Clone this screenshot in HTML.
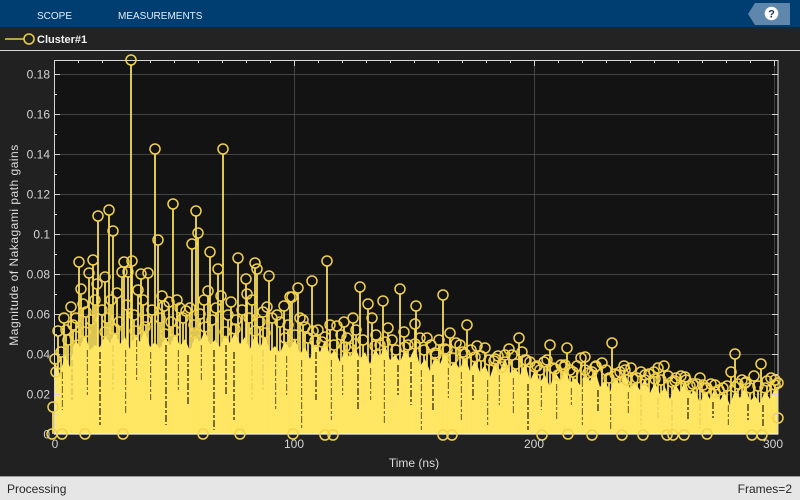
<!DOCTYPE html>
<html>
<head>
<meta charset="utf-8">
<style>
html,body{margin:0;padding:0;background:#222;}
body{width:800px;height:500px;overflow:hidden;position:relative;font-family:"Liberation Sans",sans-serif;}
svg{position:absolute;left:0;top:0;}
</style>
</head>
<body>
<svg width="800" height="500" viewBox="0 0 800 500" xmlns="http://www.w3.org/2000/svg" font-family="Liberation Sans, sans-serif">
  <rect x="0" y="0" width="800" height="500" fill="#212121"/>
  <rect x="0" y="0" width="800" height="27" fill="#003e72"/>
  <text x="37" y="19" font-size="10" fill="#e6edf4">SCOPE</text>
  <text x="118" y="19" font-size="10" fill="#e6edf4">MEASUREMENTS</text>
  <polygon points="748,14 755,3 790,3 790,25 755,25" fill="#5f86ab"/>
  <circle cx="771.5" cy="13.5" r="6.8" fill="#ffffff"/>
  <text x="771.5" y="17.5" font-size="11" font-weight="bold" fill="#1d2f45" text-anchor="middle">?</text>

  <rect x="0" y="27" width="800" height="23" fill="#232323"/>
  <line x1="5" y1="39" x2="24" y2="39" stroke="#e8cc4c" stroke-width="1.6"/>
  <circle cx="29" cy="39" r="5" fill="none" stroke="#e8cc4c" stroke-width="1.6"/>
  <text x="37" y="43" font-size="11" font-weight="bold" fill="#f2f2f2">Cluster#1</text>
  <line x1="0" y1="50.5" x2="800" y2="50.5" stroke="#d6d6d6" stroke-width="1"/>

  <rect x="54" y="60" width="724" height="374" fill="#131313"/>
  <g stroke="#434343" stroke-width="1">
    <line x1="54" y1="74.5" x2="778" y2="74.5"/>
    <line x1="54" y1="114.5" x2="778" y2="114.5"/>
    <line x1="54" y1="154.5" x2="778" y2="154.5"/>
    <line x1="54" y1="194.5" x2="778" y2="194.5"/>
    <line x1="54" y1="234.5" x2="778" y2="234.5"/>
    <line x1="54" y1="274.5" x2="778" y2="274.5"/>
    <line x1="54" y1="314.5" x2="778" y2="314.5"/>
    <line x1="54" y1="354.5" x2="778" y2="354.5"/>
    <line x1="54" y1="394.5" x2="778" y2="394.5"/>
    <line x1="294.5" y1="60" x2="294.5" y2="434"/>
    <line x1="534.5" y1="60" x2="534.5" y2="434"/>
    <line x1="774.5" y1="60" x2="774.5" y2="434"/>
  </g>

  <polygon fill="#ffe666" points="54,434 55,362 60,374 65,355 70,367 75,339 80,347 85,335 90,350 95,345 100,347 105,335 110,343 115,332 120,344 125,337 130,349 135,334 140,342 145,330 150,347 155,342 160,349 165,337 170,345 175,334 180,346 185,339 190,351 195,336 200,342 205,330 210,345 215,340 220,347 225,335 230,343 235,332 240,344 245,337 250,349 255,334 260,348 265,336 270,351 275,346 280,353 285,341 290,349 295,338 300,354 305,347 310,359 315,344 320,352 325,340 330,355 335,350 340,362 345,350 350,358 355,347 360,359 365,352 370,364 375,349 380,357 385,345 390,360 395,355 400,362 405,350 410,358 415,347 420,366 425,359 430,371 435,356 440,364 445,352 450,367 455,362 460,369 465,357 470,371 475,360 480,372 485,365 490,377 495,362 500,370 505,358 510,373 515,368 520,375 525,363 530,381 535,370 540,382 545,375 550,387 555,372 560,380 565,368 570,383 575,378 580,385 585,373 590,381 595,370 600,387 605,380 610,392 615,377 620,385 625,373 630,388 635,383 640,390 645,378 650,393 655,382 660,394 665,387 670,399 675,384 680,392 685,380 690,395 695,390 700,403 705,391 710,399 715,388 720,400 725,393 730,405 735,390 740,398 745,386 750,401 755,396 760,403 765,391 770,399 775,388 778,395 778,434"/>

  <path fill="none" stroke="#2e2a18" stroke-width="1.6" stroke-dasharray="7 2 3 2" opacity="0.8"
    d="M62 372V410 M72 360V400 M87 350V395 M100 352V425 M113 345V390 M126 350V415 M137 340V380 M151 352V400 M166 345V425 M178 350V392 M188 355V405 M201 345V380 M214 350V430 M226 345V395 M234 352V420 M252 355V400 M263 350V390 M276 355V410 M287 356V395 M302 360V430 M316 352V400 M331 360V420 M343 365V395 M358 360V410 M371 368V400 M384 360V425 M398 365V395 M411 362V405 M421 370V430 M433 375V410 M448 368V398 M461 372V420 M473 375V400 M488 380V425 M499 375V405 M513 378V415 M528 384V430 M541 386V410 M557 384V420 M571 388V405 M582 380V425 M598 390V412 M611 394V430 M628 392V415 M641 395V425 M658 398V418 M672 400V430 M688 398V420 M700 404V428 M713 402V418 M728 405V425 M748 404V420 M763 405V428"/>

  <path fill="none" stroke="#ffe560" stroke-width="1.7"
    d="M131 434V65 M155 434V154 M223 434V154 M173 434V209 M98 434V221 M109 434V215 M113 434V236 M158 434V245 M196 434V216 M192 434V249 M198 434V238 M210 434V257 M218 434V274 M79 434V267 M93 434V265 M89 434V278 M81 434V294 M83 434V309 M71 434V312 M76 434V323 M68 434V345 M58 434V336 M56 434V377 M61 434V357 M97 434V289 M105 434V282 M117 434V298 M122 434V277 M124 434V267 M128 434V277 M132 434V266 M138 434V295 M141 434V279 M148 434V278 M162 434V301 M169 434V307 M180 434V313 M186 434V316 M208 434V296 M238 434V263 M246 434V284 M247 434V299 M255 434V268 M257 434V274 M267 434V312 M269 434V281 M277 434V320 M290 434V302 M298 434V293 M292 434V302 M300 434V323 M305 434V332 M312 434V286 M313 434V336 M327 434V266 M337 434V331 M347 434V343 M353 434V323 M360 434V292 M368 434V309 M372 434V323 M383 434V306 M400 434V294 M416 434V311 M415 434V329 M427 434V343 M443 434V300 M450 434V338 M456 434V348 M467 434V330 M477 434V351 M494 434V366 M502 434V372 M509 434V354 M519 434V343 M526 434V365 M537 434V371 M547 434V365 M550 434V350 M564 434V372 M567 434V353 M573 434V377 M581 434V363 M585 434V362 M588 434V378 M602 434V368 M612 434V348 M617 434V380 M631 434V373 M633 434V384 M654 434V377 M664 434V371 M681 434V381 M693 434V389 M703 434V390 M715 434V397 M723 434V393 M731 434V377 M735 434V359 M742 434V385 M761 434V369 M767 434V386 M775 434V385 M777 434V388 M53 434V412
    M64 434V323 M66 434V335 M73 434V330 M86 434V317 M91 434V325 M95 434V305 M102 434V315 M107 434V323 M111 434V305 M119 434V327 M127 434V310 M134 434V320 M143 434V305 M146 434V325 M152 434V315 M160 434V323 M164 434V311 M171 434V327 M177 434V305 M183 434V323 M190 434V313 M194 434V330 M200 434V319 M204 434V305 M212 434V325 M216 434V313 M221 434V301 M228 434V320 M231 434V307 M236 434V325 M242 434V315 M249 434V323 M252 434V305 M260 434V327 M263 434V317 M272 434V323 M280 434V327 M284 434V311 M288 434V330
    M303 434V325 M308 434V343 M318 434V335 M322 434V347 M330 434V330 M334 434V350 M341 434V340 M344 434V327 M350 434V353 M356 434V335 M363 434V345 M376 434V340 M380 434V350 M388 434V333 M392 434V345 M396 434V355 M404 434V337 M408 434V350 M420 434V343 M424 434V355 M431 434V350 M436 434V360 M439 434V345 M447 434V355 M453 434V363 M460 434V350 M463 434V357 M471 434V355 M481 434V361 M485 434V353 M489 434V365 M498 434V361 M505 434V367 M512 434V360 M516 434V369 M522 434V357 M530 434V367
    M540 434V375 M544 434V367 M553 434V373 M558 434V380 M561 434V370 M570 434V375 M577 434V371 M592 434V377 M596 434V371 M606 434V375 M609 434V383 M620 434V377 M624 434V371 M627 434V385 M637 434V383 M641 434V377 M645 434V385 M649 434V379 M658 434V373 M661 434V385 M668 434V381 M672 434V387 M676 434V383 M686 434V385 M690 434V391 M697 434V389 M700 434V383 M707 434V393 M711 434V389 M719 434V395 M727 434V391 M738 434V389 M746 434V387 M750 434V393 M754 434V381 M758 434V391 M771 434V383"/>

  <rect x="54.5" y="60.5" width="723.5" height="373.5" fill="none" stroke="#d6d6d6" stroke-width="1"/>
  <line x1="54" y1="434" x2="778" y2="434" stroke="#f4f4f4" stroke-width="1.2"/>

  <g stroke="#d6d6d6" stroke-width="1">
    <path d="M54 74.5h6 M54 114.5h6 M54 154.5h6 M54 194.5h6 M54 234.5h6 M54 274.5h6 M54 314.5h6 M54 354.5h6 M54 394.5h6"/>
    <path d="M54 94.5h3 M54 134.5h3 M54 174.5h3 M54 214.5h3 M54 254.5h3 M54 294.5h3 M54 334.5h3 M54 374.5h3 M54 414.5h3"/>
    <path d="M778 74.5h-6 M778 114.5h-6 M778 154.5h-6 M778 194.5h-6 M778 234.5h-6 M778 274.5h-6 M778 314.5h-6 M778 354.5h-6 M778 394.5h-6"/>
    <path d="M778 94.5h-3 M778 134.5h-3 M778 174.5h-3 M778 214.5h-3 M778 254.5h-3 M778 294.5h-3 M778 334.5h-3 M778 374.5h-3 M778 414.5h-3"/>
    <path d="M294.5 60v6 M534.5 60v6 M774.5 60v6"/>
    <path d="M78.5 60v3 M102.5 60v3 M126.5 60v3 M150.5 60v3 M174.5 60v3 M198.5 60v3 M222.5 60v3 M246.5 60v3 M270.5 60v3 M318.5 60v3 M342.5 60v3 M366.5 60v3 M390.5 60v3 M414.5 60v3 M438.5 60v3 M462.5 60v3 M486.5 60v3 M510.5 60v3 M558.5 60v3 M582.5 60v3 M606.5 60v3 M630.5 60v3 M654.5 60v3 M678.5 60v3 M702.5 60v3 M726.5 60v3 M750.5 60v3"/>
  </g>

  <g fill="none" stroke="#f2d24c" stroke-width="1.5">
    <circle cx="131" cy="60" r="5"/><circle cx="155" cy="149" r="5"/><circle cx="223" cy="149" r="5"/><circle cx="173" cy="204" r="5"/>
    <circle cx="98" cy="216" r="5"/><circle cx="109" cy="210" r="5"/><circle cx="113" cy="231" r="5"/><circle cx="158" cy="240" r="5"/>
    <circle cx="196" cy="211" r="5"/><circle cx="192" cy="244" r="5"/><circle cx="198" cy="233" r="5"/><circle cx="210" cy="252" r="5"/>
    <circle cx="218" cy="269" r="5"/><circle cx="79" cy="262" r="5"/><circle cx="93" cy="260" r="5"/><circle cx="89" cy="273" r="5"/>
    <circle cx="81" cy="289" r="5"/><circle cx="83" cy="304" r="5"/><circle cx="71" cy="307" r="5"/><circle cx="76" cy="318" r="5"/>
    <circle cx="68" cy="340" r="5"/><circle cx="58" cy="331" r="5"/><circle cx="56" cy="372" r="5"/><circle cx="61" cy="352" r="5"/>
    <circle cx="97" cy="284" r="5"/><circle cx="105" cy="277" r="5"/><circle cx="117" cy="293" r="5"/><circle cx="122" cy="272" r="5"/>
    <circle cx="124" cy="262" r="5"/><circle cx="128" cy="272" r="5"/><circle cx="132" cy="261" r="5"/><circle cx="138" cy="290" r="5"/>
    <circle cx="141" cy="274" r="5"/><circle cx="148" cy="273" r="5"/><circle cx="162" cy="296" r="5"/><circle cx="169" cy="302" r="5"/>
    <circle cx="180" cy="308" r="5"/><circle cx="186" cy="311" r="5"/><circle cx="208" cy="291" r="5"/><circle cx="238" cy="258" r="5"/>
    <circle cx="246" cy="279" r="5"/><circle cx="247" cy="294" r="5"/><circle cx="255" cy="263" r="5"/><circle cx="257" cy="269" r="5"/>
    <circle cx="267" cy="307" r="5"/><circle cx="269" cy="276" r="5"/><circle cx="277" cy="315" r="5"/><circle cx="290" cy="297" r="5"/>
    <circle cx="298" cy="288" r="5"/><circle cx="292" cy="297" r="5"/><circle cx="300" cy="318" r="5"/><circle cx="305" cy="327" r="5"/>
    <circle cx="312" cy="281" r="5"/><circle cx="313" cy="331" r="5"/><circle cx="327" cy="261" r="5"/><circle cx="337" cy="326" r="5"/>
    <circle cx="347" cy="338" r="5"/><circle cx="353" cy="318" r="5"/><circle cx="360" cy="287" r="5"/><circle cx="368" cy="304" r="5"/>
    <circle cx="372" cy="318" r="5"/><circle cx="383" cy="301" r="5"/><circle cx="400" cy="289" r="5"/><circle cx="416" cy="306" r="5"/>
    <circle cx="415" cy="324" r="5"/><circle cx="427" cy="338" r="5"/><circle cx="443" cy="295" r="5"/><circle cx="450" cy="333" r="5"/>
    <circle cx="456" cy="343" r="5"/><circle cx="467" cy="325" r="5"/><circle cx="477" cy="346" r="5"/><circle cx="494" cy="361" r="5"/>
    <circle cx="502" cy="367" r="5"/><circle cx="509" cy="349" r="5"/><circle cx="519" cy="338" r="5"/><circle cx="526" cy="360" r="5"/>
    <circle cx="537" cy="366" r="5"/><circle cx="547" cy="360" r="5"/><circle cx="550" cy="345" r="5"/><circle cx="564" cy="367" r="5"/>
    <circle cx="567" cy="348" r="5"/><circle cx="573" cy="372" r="5"/><circle cx="581" cy="358" r="5"/><circle cx="585" cy="357" r="5"/>
    <circle cx="588" cy="373" r="5"/><circle cx="602" cy="363" r="5"/><circle cx="612" cy="343" r="5"/><circle cx="617" cy="375" r="5"/>
    <circle cx="631" cy="368" r="5"/><circle cx="633" cy="379" r="5"/><circle cx="654" cy="372" r="5"/><circle cx="664" cy="366" r="5"/>
    <circle cx="681" cy="376" r="5"/><circle cx="693" cy="384" r="5"/><circle cx="703" cy="385" r="5"/><circle cx="715" cy="392" r="5"/>
    <circle cx="723" cy="388" r="5"/><circle cx="731" cy="372" r="5"/><circle cx="735" cy="354" r="5"/><circle cx="742" cy="380" r="5"/>
    <circle cx="761" cy="364" r="5"/><circle cx="767" cy="381" r="5"/><circle cx="775" cy="380" r="5"/><circle cx="778" cy="383" r="5"/>
    <circle cx="778" cy="418" r="5"/><circle cx="53" cy="407" r="5"/>
    <!-- extra mid-level -->
    <circle cx="64" cy="318" r="5"/><circle cx="66" cy="330" r="5"/><circle cx="73" cy="325" r="5"/><circle cx="86" cy="312" r="5"/>
    <circle cx="91" cy="320" r="5"/><circle cx="95" cy="300" r="5"/><circle cx="102" cy="310" r="5"/><circle cx="107" cy="318" r="5"/>
    <circle cx="111" cy="300" r="5"/><circle cx="119" cy="322" r="5"/><circle cx="127" cy="305" r="5"/><circle cx="134" cy="315" r="5"/>
    <circle cx="143" cy="300" r="5"/><circle cx="146" cy="320" r="5"/><circle cx="152" cy="310" r="5"/><circle cx="160" cy="318" r="5"/>
    <circle cx="164" cy="306" r="5"/><circle cx="171" cy="322" r="5"/><circle cx="177" cy="300" r="5"/><circle cx="183" cy="318" r="5"/>
    <circle cx="190" cy="308" r="5"/><circle cx="194" cy="325" r="5"/><circle cx="200" cy="314" r="5"/><circle cx="204" cy="300" r="5"/>
    <circle cx="212" cy="320" r="5"/><circle cx="216" cy="308" r="5"/><circle cx="221" cy="296" r="5"/><circle cx="228" cy="315" r="5"/>
    <circle cx="231" cy="302" r="5"/><circle cx="236" cy="320" r="5"/><circle cx="242" cy="310" r="5"/><circle cx="249" cy="318" r="5"/>
    <circle cx="252" cy="300" r="5"/><circle cx="260" cy="322" r="5"/><circle cx="263" cy="312" r="5"/><circle cx="272" cy="318" r="5"/>
    <circle cx="280" cy="322" r="5"/><circle cx="284" cy="306" r="5"/><circle cx="288" cy="325" r="5"/>
    <circle cx="303" cy="320" r="5"/><circle cx="308" cy="338" r="5"/><circle cx="318" cy="330" r="5"/><circle cx="322" cy="342" r="5"/>
    <circle cx="330" cy="325" r="5"/><circle cx="334" cy="345" r="5"/><circle cx="341" cy="335" r="5"/><circle cx="344" cy="322" r="5"/>
    <circle cx="350" cy="348" r="5"/><circle cx="356" cy="330" r="5"/><circle cx="363" cy="340" r="5"/><circle cx="376" cy="335" r="5"/>
    <circle cx="380" cy="345" r="5"/><circle cx="388" cy="328" r="5"/><circle cx="392" cy="340" r="5"/><circle cx="396" cy="350" r="5"/>
    <circle cx="404" cy="332" r="5"/><circle cx="408" cy="345" r="5"/><circle cx="420" cy="338" r="5"/><circle cx="424" cy="350" r="5"/>
    <circle cx="431" cy="345" r="5"/><circle cx="436" cy="355" r="5"/><circle cx="439" cy="340" r="5"/><circle cx="447" cy="350" r="5"/>
    <circle cx="453" cy="358" r="5"/><circle cx="460" cy="345" r="5"/><circle cx="463" cy="352" r="5"/><circle cx="471" cy="350" r="5"/>
    <circle cx="481" cy="356" r="5"/><circle cx="485" cy="348" r="5"/><circle cx="489" cy="360" r="5"/><circle cx="498" cy="356" r="5"/>
    <circle cx="505" cy="362" r="5"/><circle cx="512" cy="355" r="5"/><circle cx="516" cy="364" r="5"/><circle cx="522" cy="352" r="5"/>
    <circle cx="530" cy="362" r="5"/>
    <circle cx="540" cy="370" r="5"/><circle cx="544" cy="362" r="5"/><circle cx="553" cy="368" r="5"/><circle cx="558" cy="375" r="5"/>
    <circle cx="561" cy="365" r="5"/><circle cx="570" cy="370" r="5"/><circle cx="577" cy="366" r="5"/><circle cx="592" cy="372" r="5"/>
    <circle cx="596" cy="366" r="5"/><circle cx="606" cy="370" r="5"/><circle cx="609" cy="378" r="5"/><circle cx="620" cy="372" r="5"/>
    <circle cx="624" cy="366" r="5"/><circle cx="627" cy="380" r="5"/><circle cx="637" cy="378" r="5"/><circle cx="641" cy="372" r="5"/>
    <circle cx="645" cy="380" r="5"/><circle cx="649" cy="374" r="5"/><circle cx="658" cy="368" r="5"/><circle cx="661" cy="380" r="5"/>
    <circle cx="668" cy="376" r="5"/><circle cx="672" cy="382" r="5"/><circle cx="676" cy="378" r="5"/><circle cx="686" cy="380" r="5"/>
    <circle cx="690" cy="386" r="5"/><circle cx="697" cy="384" r="5"/><circle cx="700" cy="378" r="5"/><circle cx="707" cy="388" r="5"/>
    <circle cx="711" cy="384" r="5"/><circle cx="719" cy="390" r="5"/><circle cx="727" cy="386" r="5"/><circle cx="738" cy="384" r="5"/>
    <circle cx="746" cy="382" r="5"/><circle cx="750" cy="388" r="5"/><circle cx="754" cy="376" r="5"/><circle cx="758" cy="386" r="5"/>
    <circle cx="771" cy="378" r="5"/>
    <!-- envelope circles -->
    <circle cx="55" cy="359" r="5"/><circle cx="75" cy="336" r="5"/><circle cx="85" cy="332" r="5"/><circle cx="105" cy="332" r="5"/>
    <circle cx="115" cy="329" r="5"/><circle cx="135" cy="331" r="5"/><circle cx="145" cy="327" r="5"/><circle cx="165" cy="334" r="5"/>
    <circle cx="175" cy="331" r="5"/><circle cx="195" cy="333" r="5"/><circle cx="205" cy="327" r="5"/><circle cx="225" cy="332" r="5"/>
    <circle cx="235" cy="329" r="5"/><circle cx="255" cy="331" r="5"/><circle cx="265" cy="333" r="5"/><circle cx="285" cy="338" r="5"/>
    <circle cx="295" cy="335" r="5"/><circle cx="315" cy="341" r="5"/><circle cx="325" cy="337" r="5"/><circle cx="345" cy="347" r="5"/>
    <circle cx="355" cy="344" r="5"/><circle cx="375" cy="346" r="5"/><circle cx="385" cy="342" r="5"/><circle cx="405" cy="347" r="5"/>
    <circle cx="415" cy="344" r="5"/><circle cx="435" cy="353" r="5"/><circle cx="445" cy="349" r="5"/><circle cx="465" cy="354" r="5"/>
    <circle cx="475" cy="357" r="5"/><circle cx="495" cy="359" r="5"/><circle cx="505" cy="355" r="5"/><circle cx="525" cy="360" r="5"/>
    <circle cx="535" cy="367" r="5"/><circle cx="555" cy="369" r="5"/><circle cx="565" cy="365" r="5"/><circle cx="585" cy="370" r="5"/>
    <circle cx="595" cy="367" r="5"/><circle cx="615" cy="374" r="5"/><circle cx="625" cy="370" r="5"/><circle cx="645" cy="375" r="5"/>
    <circle cx="655" cy="379" r="5"/><circle cx="675" cy="381" r="5"/><circle cx="685" cy="377" r="5"/><circle cx="705" cy="388" r="5"/>
    <circle cx="715" cy="385" r="5"/><circle cx="735" cy="387" r="5"/><circle cx="745" cy="383" r="5"/><circle cx="765" cy="388" r="5"/>
    <circle cx="775" cy="385" r="5"/>
    <!-- zero circles -->
    <circle cx="52" cy="434" r="5"/><circle cx="62" cy="434" r="5"/><circle cx="85" cy="434" r="5"/><circle cx="123" cy="434" r="5"/>
    <circle cx="203" cy="434" r="5"/><circle cx="240" cy="434" r="5"/><circle cx="293" cy="434" r="5"/><circle cx="325" cy="435" r="5"/>
    <circle cx="333" cy="435" r="5"/><circle cx="443" cy="435" r="5"/><circle cx="452" cy="435" r="5"/><circle cx="542" cy="435" r="5"/>
    <circle cx="568" cy="434" r="5"/><circle cx="592" cy="435" r="5"/><circle cx="622" cy="435" r="5"/><circle cx="643" cy="435" r="5"/>
    <circle cx="667" cy="435" r="5"/><circle cx="673" cy="435" r="5"/><circle cx="684" cy="435" r="5"/><circle cx="707" cy="434" r="5"/>
    <circle cx="752" cy="435" r="5"/><circle cx="762" cy="435" r="5"/>
  </g>

  <g font-size="12" fill="#d4d4d4" text-anchor="end">
    <text x="50" y="78.5">0.18</text>
    <text x="50" y="118.5">0.16</text>
    <text x="50" y="158.5">0.14</text>
    <text x="50" y="198.5">0.12</text>
    <text x="50" y="238.5">0.1</text>
    <text x="50" y="278.5">0.08</text>
    <text x="50" y="318.5">0.06</text>
    <text x="50" y="358.5">0.04</text>
    <text x="50" y="398.5">0.02</text>
    <text x="50" y="438.5">0</text>
  </g>
  <g font-size="12" fill="#d4d4d4" text-anchor="middle">
    <text x="55" y="448">0</text>
    <text x="294" y="448">100</text>
    <text x="534" y="448">200</text>
    <text x="773" y="448">300</text>
  </g>
  <text x="414" y="467" font-size="12" fill="#dcdcdc" text-anchor="middle">Time (ns)</text>
  <text transform="translate(18,245) rotate(-90)" font-size="12" letter-spacing="0.5" fill="#dcdcdc" text-anchor="middle">Magnitude of Nakagami path gains</text>

  <rect x="0" y="477" width="800" height="23" fill="#e6e6e6"/>
  <line x1="0" y1="476.5" x2="800" y2="476.5" stroke="#9a9a9a" stroke-width="1"/>
  <text x="7" y="493" font-size="12" fill="#262626">Processing</text>
  <text x="792" y="493" font-size="12" fill="#262626" text-anchor="end">Frames=2</text>
</svg>
</body>
</html>
